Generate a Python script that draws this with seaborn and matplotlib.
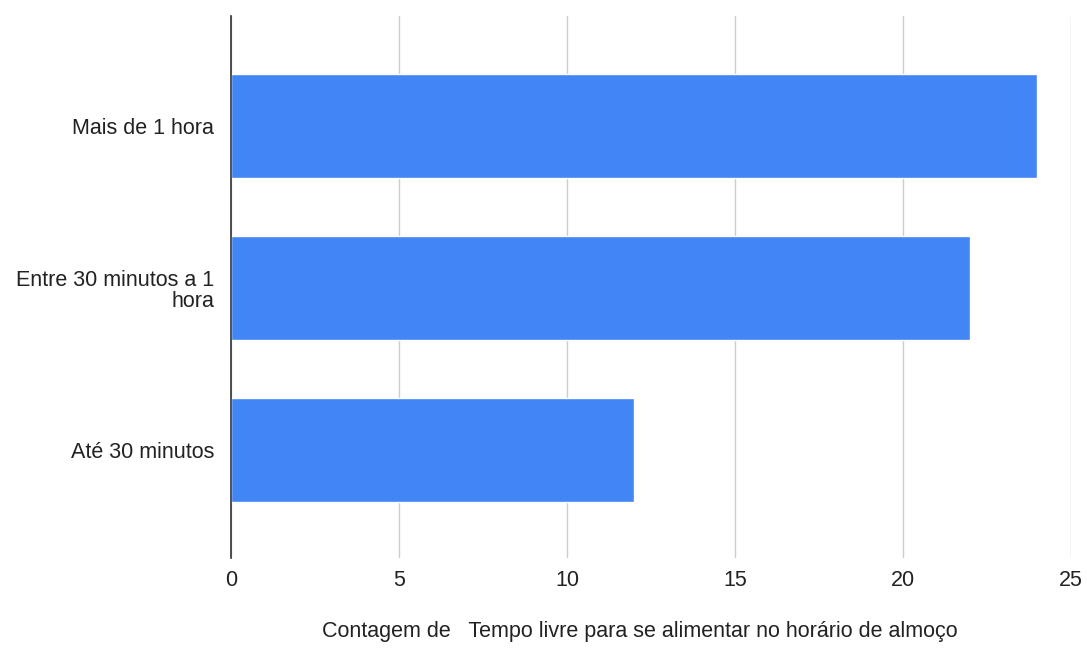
import matplotlib
matplotlib.use("Agg")
import matplotlib.pyplot as plt
import seaborn as sns
import pandas as pd

categories = ["Mais de 1 hora", "Entre 30 minutos a 1\nhora", "Até 30 minutos"]
counts = [24, 22, 12]
x_ticks = [0, 5, 10, 15, 20, 25]
x_label = "Contagem de   Tempo livre para se alimentar no horário de almoço"

sns.set_theme(style="white")
plt.rcParams['font.family'] = ['Liberation Sans', 'DejaVu Sans']

df = pd.DataFrame({"cat": categories, "count": counts})

fig = plt.figure(figsize=(10.87, 6.48), dpi=100)
ax = fig.add_axes([231/1087, (648-558)/648, 840/1087, (558-16)/648])
sns.barplot(data=df, y="cat", x="count", color="#4285F4", saturation=1,
            width=0.64, orient="h", ax=ax, zorder=3)
ax.set_xlim(0, 25)
ax.set_ylim(2.664, -0.679)
ax.set_xticks(x_ticks)
ax.set_xticklabels([str(t) for t in x_ticks])
ax.grid(axis="x", color="#cccccc", linewidth=1, zorder=0)
ax.set_axisbelow(True)
for s in ["top", "right", "bottom"]:
    ax.spines[s].set_visible(False)
ax.spines["left"].set_color("#333333")
ax.spines["left"].set_linewidth(1.2)
ax.spines["left"].set_zorder(5)
ax.tick_params(axis="both", length=0, labelsize=15.5, colors="#222222", pad=12)
ax.tick_params(axis="x", pad=9)
ax.set_ylabel("")
ax.set_xlabel(x_label, fontsize=15.5, color="#222222")
ax.xaxis.set_label_coords((640 - 231) / 840, -(632 - 558) / 542, transform=ax.transAxes)
ax.xaxis.label.set_verticalalignment("center")
for lbl in ax.get_yticklabels():
    lbl.set_horizontalalignment("right")
    lbl.set_multialignment("right")
    lbl.set_linespacing(1.0)

fig.savefig("out.png", dpi=100)
